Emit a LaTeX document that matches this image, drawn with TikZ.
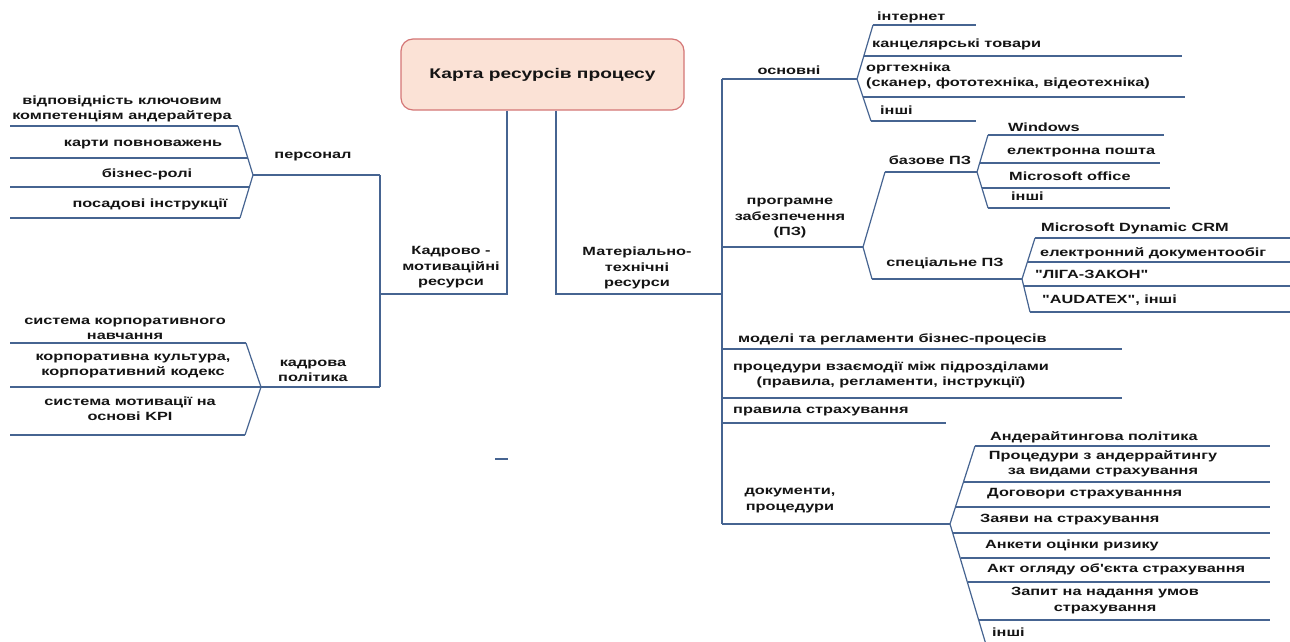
\documentclass[tikz,border=0pt]{standalone}
\usepackage{fontspec}
\setmainfont{Liberation Sans}[FakeStretch=1.37, Ligatures=TeXOff]
\definecolor{ln}{RGB}{70,100,145}
\definecolor{boxfill}{RGB}{251,226,214}
\definecolor{boxdraw}{RGB}{212,118,118}
\definecolor{txt}{RGB}{20,20,20}
\tikzset{
  lbl/.style={inner sep=0pt, font=\bfseries\fontsize{11.9}{15.5}\selectfont, text=txt, align=center},
  lblL/.style={lbl, anchor=west, align=left},
  conn/.style={draw=ln, line width=1.2pt, line join=miter},
  titlebox/.style={draw=boxdraw, fill=boxfill, rounded corners=12pt, line width=1.2pt,
    minimum width=283pt, minimum height=71pt, inner sep=0pt,
    font=\bfseries\fontsize{14}{16}\selectfont, text=txt}
}
\begin{document}
\begin{tikzpicture}[x=1pt,y=-1pt]
\useasboundingbox[fill=white] (0,0) rectangle (1290,642);

% ---- root
\node[titlebox] (root) at (542.5,74.5) {Карта ресурсів процесу};

% ---- main branches
\node[lbl] (kadr) at (451,267.5) {Кадрово -\\мотиваційні\\ресурси};
\node[lbl] (mat) at (637,268) {Матеріально-\\технічні\\ресурси};
\coordinate (kadrJ) at (380,294);
\coordinate (matJ) at (722,294);
\draw[conn] ([xshift=-35.5pt]root.south) |- (kadrJ);
\draw[conn] ([xshift=13.5pt]root.south) |- (matJ);

% ---- left side
\coordinate (vL1) at (380,175);
\coordinate (vL2) at (380,387);
\draw[conn] (vL1) -- (vL2);

% персонал
\node[lbl] (pers) at (313,157) {персонал};
\coordinate (pT) at (253,175);
\draw[conn] (pT) -- (vL1);
\coordinate (pA) at (238,126);
\coordinate (pD) at (240,218);
\draw[conn] (pA) -- (pT) -- (pD);
\coordinate (pl1) at (10,126);
\coordinate (pl2) at (10,158);
\coordinate (pl3) at (10,187);
\coordinate (pl4) at (10,218);
\coordinate (pB) at (247.8,158);
\coordinate (pC) at (249.4,187);
\draw[conn] (pl1) -- (pA);
\draw[conn] (pl2) -- (pB);
\draw[conn] (pl3) -- (pC);
\draw[conn] (pl4) -- (pD);
\node[lbl] (p1) at (122,109) {відповідність ключовим\\компетенціям андерайтера};
\node[lbl] (p2) at (143,145) {карти повноважень};
\node[lbl] (p3) at (147,174) {бізнес-ролі};
\node[lbl] (p4) at (150,204) {посадові інструкції};

% кадрова політика
\node[lbl] (kp) at (313,371) {кадрова\\політика};
\coordinate (kT) at (261,387);
\draw[conn] (kT) -- (vL2);
\coordinate (kA) at (246,343);
\coordinate (kC) at (245,435);
\draw[conn] (kA) -- (kT) -- (kC);
\coordinate (kl1) at (10,343);
\coordinate (kl2) at (10,387);
\coordinate (kl3) at (10,435);
\draw[conn] (kl1) -- (kA);
\draw[conn] (kl2) -- (kT);
\draw[conn] (kl3) -- (kC);
\node[lbl] (k1) at (125,329) {система корпоративного\\навчання};
\node[lbl] (k2) at (133,366) {корпоративна культура,\\корпоративний кодекс};
\node[lbl] (k3) at (130,408.5) {система мотивації на\\основі KPI};

% stray mark
\coordinate (s1) at (495,459);
\coordinate (s2) at (508,459);
\draw[conn] (s1) -- (s2);

% ---- right side main vertical
\coordinate (rTop) at (722,79);
\coordinate (rBot) at (722,524);
\draw[conn] (rTop) -- (rBot);

% основні
\node[lbl] (osn) at (789,70) {основні};
\coordinate (oT) at (857,79);
\draw[conn] (rTop) -- (oT);
\coordinate (oA) at (873,25);
\coordinate (oD) at (871,121);
\draw[conn] (oA) -- (oT) -- (oD);
\coordinate (oB) at (863.8,56);
\coordinate (oC) at (863,97);
\draw[conn] (oA) -- (976,25);
\draw[conn] (oB) -- (1182,56);
\draw[conn] (oC) -- (1185,97);
\draw[conn] (oD) -- (976,121);
\node[lblL] (o1) at (877,17) {інтернет};
\node[lblL] (o2) at (872,44) {канцелярські товари};
\node[lblL] (o3) at (866,76) {оргтехніка\\(сканер, фототехніка, відеотехніка)};
\node[lblL] (o4) at (880,110) {інші};

% програмне забезпечення
\node[lbl] (pz) at (790,218.5) {програмне\\забезпечення\\(ПЗ)};
\coordinate (zJ) at (722,247);
\coordinate (zT) at (863,247);
\draw[conn] (zJ) -- (zT);
\coordinate (zA) at (885,172);
\coordinate (zB) at (872,279);
\draw[conn] (zA) -- (zT) -- (zB);
\node[lbl] (bpz) at (930,160) {базове ПЗ};
\node[lbl] (spz) at (945,263) {спеціальне ПЗ};
\coordinate (bT) at (977,172);
\coordinate (sT) at (1022,279);
\draw[conn] (zA) -- (bT);
\draw[conn] (zB) -- (sT);

% базове ПЗ fan
\coordinate (bA) at (988,135);
\coordinate (bD) at (988,208);
\draw[conn] (bA) -- (bT) -- (bD);
\draw[conn] (bA) -- (1164,135);
\draw[conn] (980.3,163) -- (1160,163);
\draw[conn] (981.8,188) -- (1170,188);
\draw[conn] (bD) -- (1170,208);
\node[lblL] (b1) at (1008,127) {Windows};
\node[lblL] (b2) at (1007,153) {електронна пошта};
\node[lblL] (b3) at (1009,176) {Microsoft office};
\node[lblL] (b4) at (1011,196) {інші};

% спеціальне ПЗ fan
\coordinate (sA) at (1035,238);
\coordinate (sD) at (1030,312);
\draw[conn] (sA) -- (sT) -- (sD);
\draw[conn] (sA) -- (1290,238);
\draw[conn] (1027.4,262) -- (1290,262);
\draw[conn] (1023.7,286) -- (1290,286);
\draw[conn] (sD) -- (1290,312);
\node[lblL] (s1t) at (1041,228) {Microsoft Dynamic CRM};
\node[lblL] (s2t) at (1040,253) {електронний документообіг};
\node[lblL] (s3t) at (1035,274) {"ЛІГА-ЗАКОН"};
\node[lblL] (s4t) at (1042,300) {"AUDATEX", інші};

% моделі, процедури, правила
\node[lblL] (m1) at (738,339) {моделі та регламенти бізнес-процесів};
\draw[conn] (722,349) -- (1122,349);
\node[lbl] (m2) at (891,375) {процедури взаємодії між підрозділами\\(правила, регламенти, інструкції)};
\draw[conn] (722,398) -- (1122,398);
\node[lblL] (m3) at (733,412) {правила страхування};
\draw[conn] (722,423) -- (946,423);

% документи, процедури
\node[lbl] (doc) at (790,500.5) {документи,\\процедури};
\coordinate (dT) at (950,524);
\draw[conn] (rBot) -- (dT);
\coordinate (dA) at (975,446);
\coordinate (dZ) at (987,648);
\draw[conn] (dA) -- (dT) -- (dZ);
\draw[conn] (dA) -- (1270,446);
\draw[conn] (963.8,482) -- (1270,482);
\draw[conn] (955.4,507) -- (1270,507);
\draw[conn] (952.8,533) -- (1270,533);
\draw[conn] (960.5,558) -- (1270,558);
\draw[conn] (967.7,582) -- (1270,582);
\draw[conn] (979,620) -- (1270,620);
\node[lblL] (d1) at (990,437) {Андерайтингова політика};
\node[lbl] (d2) at (1103,464) {Процедури з андеррайтингу\\за видами страхування};
\node[lblL] (d3) at (987,494) {Договори страхуванння};
\node[lblL] (d4) at (980,520) {Заяви на страхування};
\node[lblL] (d5) at (985,545) {Анкети оцінки ризику};
\node[lblL] (d6) at (987,569) {Акт огляду об'єкта страхування};
\node[lbl] (d7) at (1105,600.5) {Запит на надання умов\\страхування};
\node[lblL] (d8) at (992,632) {інші};
\end{tikzpicture}
\end{document}
